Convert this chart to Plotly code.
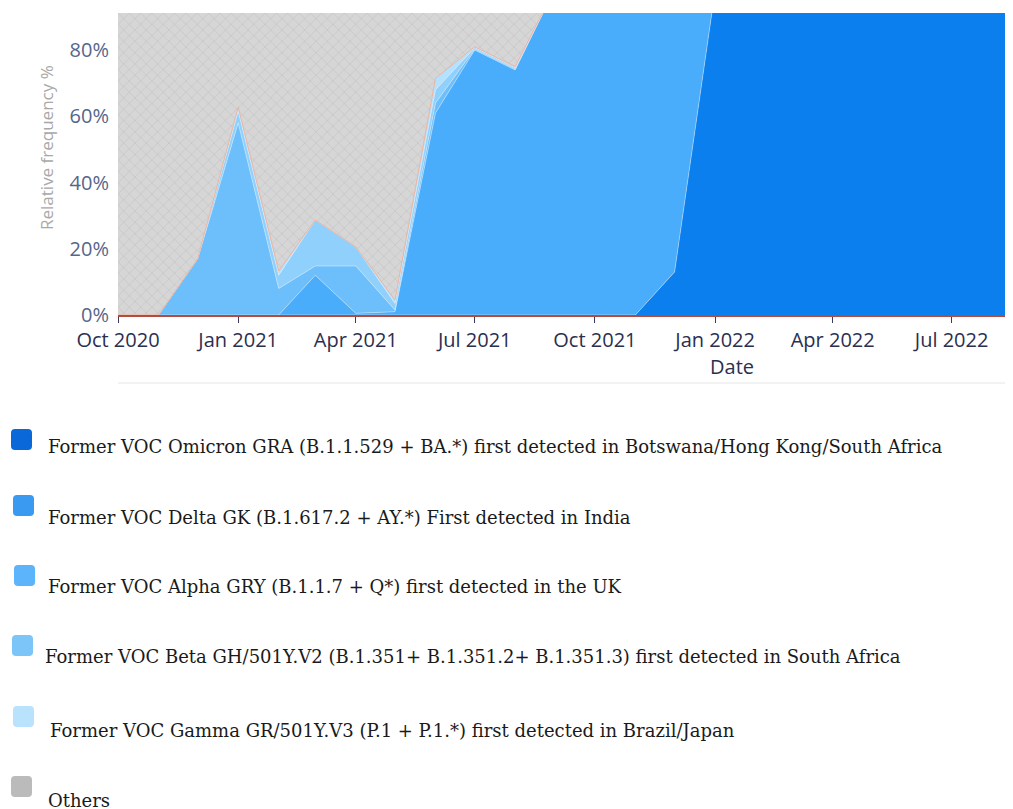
import plotly.graph_objects as go

# ---------------- data (monthly relative frequency, %) ----------------
dates = ["2020-10-01", "2020-11-01", "2020-12-01", "2021-01-01", "2021-02-01", "2021-03-01",
         "2021-04-01", "2021-05-01", "2021-06-01", "2021-07-01", "2021-08-01", "2021-09-01",
         "2021-10-01", "2021-11-01", "2021-12-01", "2022-01-01", "2022-02-01", "2022-03-01",
         "2022-04-01", "2022-05-01", "2022-06-01", "2022-07-01", "2022-08-01", "2022-09-01"]

omicron = [0, 0, 0, 0, 0, 0, 0, 0, 0, 0, 0, 0, 0, 0, 13, 98, 99.7, 99.7, 99.7, 99.7, 99.7, 99.7, 99.7, 99.7]
delta   = [0, 0, 0, 0, 0, 12, 0.5, 1, 61, 80, 74, 99, 99.5, 99.5, 86.5, 1.5, 0, 0, 0, 0, 0, 0, 0, 0]
alpha   = [0, 0, 17, 58, 8, 2.8, 14.3, 0.5, 3, 0.3, 0.3, 0, 0, 0, 0, 0, 0, 0, 0, 0, 0, 0, 0, 0]
beta    = [0, 0, 0, 3.5, 4, 13.9, 5.8, 2, 4, 0.4, 0.4, 0, 0, 0, 0, 0, 0, 0, 0, 0, 0, 0, 0, 0]
gamma   = [0, 0, 0, 1.3, 1.3, 0, 0, 1, 3.5, 0.3, 0.3, 0, 0, 0, 0, 0, 0, 0, 0, 0, 0, 0, 0, 0]
others  = [100, 100, 83, 37.2, 86.7, 71.3, 79.4, 95.5, 28.5, 19, 25, 1, 0.5, 0.5, 0.5, 0.5, 0.3, 0.3, 0.3, 0.3, 0.3, 0.3, 0.3, 0.3]

series_names = [
    "Former VOC Omicron GRA (B.1.1.529 + BA.*) first detected in Botswana/Hong Kong/South Africa",
    "Former VOC Delta GK (B.1.617.2 + AY.*) First detected in India",
    "Former VOC Alpha GRY (B.1.1.7 + Q*) first detected in the UK",
    "Former VOC Beta GH/501Y.V2 (B.1.351+ B.1.351.2+ B.1.351.3) first detected in South Africa",
    "Former VOC Gamma GR/501Y.V3 (P.1 + P.1.*) first detected in Brazil/Japan",
    "Others",
]
series_values = [omicron, delta, alpha, beta, gamma, others]

area_colors = ["#0b7fed", "#4aadfc", "#6cbffb", "#8fd0fd", "#b3e1fe", "#d5d5d5"]
legend_colors = ["#0a68d8", "#3a9af2", "#5cb4fa", "#7cc5f9", "#b9e2fd", "#bbbbbb"]

y_ticks = [0, 20, 40, 60, 80]
y_ticktext = ["0%", "20%", "40%", "60%", "80%"]

# ---------------- figure ----------------
OFF = 8                      # page body margin of the html page
W, H = 1013 - OFF, 809 - OFF
L, R, T, B = 118, 1013, 13, 315  # plot area in screen pixels


def px(x):
    return (x - L) / (R - L)


def py(y):
    return (B - y) / (B - T)


fig = go.Figure()
for i, (name, vals) in enumerate(zip(series_names, series_values)):
    if name == "Others":
        line = dict(width=0)
        extra = dict(fillpattern=dict(shape="x", bgcolor="#d6d6d6", fgcolor="#b9b9b9",
                                      size=8, solidity=0.2))
    elif i == 4:
        line = dict(width=0.9, color="#f3b09a")
        extra = {}
    else:
        line = dict(width=0.7, color="rgba(255,255,255,0.55)")
        extra = {}
    fig.add_trace(go.Scatter(
        x=dates, y=vals, name=name, mode="lines", stackgroup="one",
        line=line, fillcolor=area_colors[i], showlegend=False, **extra,
    ))

fig.update_layout(
    width=W, height=H,
    margin=dict(l=L - OFF, r=1013 - R, t=T - OFF, b=809 - B, pad=0),
    paper_bgcolor="white", plot_bgcolor="#d6d6d6",
    font=dict(family="Open Sans", size=20, color="#2b2f4f"),
    showlegend=False,
)
fig.update_xaxes(
    range=["2020-10-01", "2022-08-17"],
    dtick="M3", tick0="2020-10-01", tickformat="%b %Y",
    ticks="outside", ticklen=6, tickcolor="#3a3a5a", tickwidth=1,
    showline=True, linecolor="#b54a3e", linewidth=1.5,
    showgrid=False, zeroline=False,
    tickfont=dict(size=20, color="#2b2f4f"),
)
fig.update_yaxes(
    range=[0, 91.2], tickvals=y_ticks, ticktext=y_ticktext,
    ticks="", showgrid=False, zeroline=False, showline=False,
    tickfont=dict(size=20, color="#56668a"), ticklabelstandoff=8,
)

# axis titles as annotations
fig.add_annotation(x=px(732), y=py(366), xref="paper", yref="paper", text="Date",
                   showarrow=False, font=dict(size=20, color="#2b2f4f"),
                   xanchor="center", yanchor="middle")
fig.add_annotation(x=px(47), y=py(148), xref="paper", yref="paper", text="Relative frequency %",
                   showarrow=False, textangle=-90, font=dict(size=17, color="#a8a8a8"),
                   xanchor="center", yanchor="middle")

# separator line under the chart
fig.add_shape(type="line", xref="paper", yref="paper", x0=px(118), x1=px(1013),
              y0=py(383), y1=py(383), line=dict(color="#e6e6e6", width=1))

# custom legend
icons = [(11, 429), (13, 495), (14, 565), (12, 635), (13, 706), (11, 776)]
texts = [(46, 453), (46, 524), (46, 593), (43, 663), (48, 737), (46, 806)]
size = 21
rad = 4
fs = 18
for (ix, iy), (tx, tb), c, name in zip(icons, texts, legend_colors, series_names):
    x0, x1 = px(ix), px(ix + size)
    y0, y1 = py(iy), py(iy + size)
    rx = rad / (R - L)
    ry = rad / (B - T)
    path = (f"M {x0+rx},{y0} L {x1-rx},{y0} Q {x1},{y0} {x1},{y0-ry} "
            f"L {x1},{y1+ry} Q {x1},{y1} {x1-rx},{y1} L {x0+rx},{y1} "
            f"Q {x0},{y1} {x0},{y1+ry} L {x0},{y0-ry} Q {x0},{y0} {x0+rx},{y0} Z")
    fig.add_shape(type="path", path=path, xref="paper", yref="paper",
                  fillcolor=c, line=dict(width=0))
    extra = dict(height=16, valign="middle") if name == "Others" else {}
    fig.add_annotation(x=px(tx), y=py(tb - 0.36 * fs), xref="paper", yref="paper",
                       text=name, showarrow=False, xanchor="left", yanchor="middle",
                       font=dict(family="DejaVu Serif", size=fs, color="#1a1a1a"), **extra)

fig.write_html("out.html")
